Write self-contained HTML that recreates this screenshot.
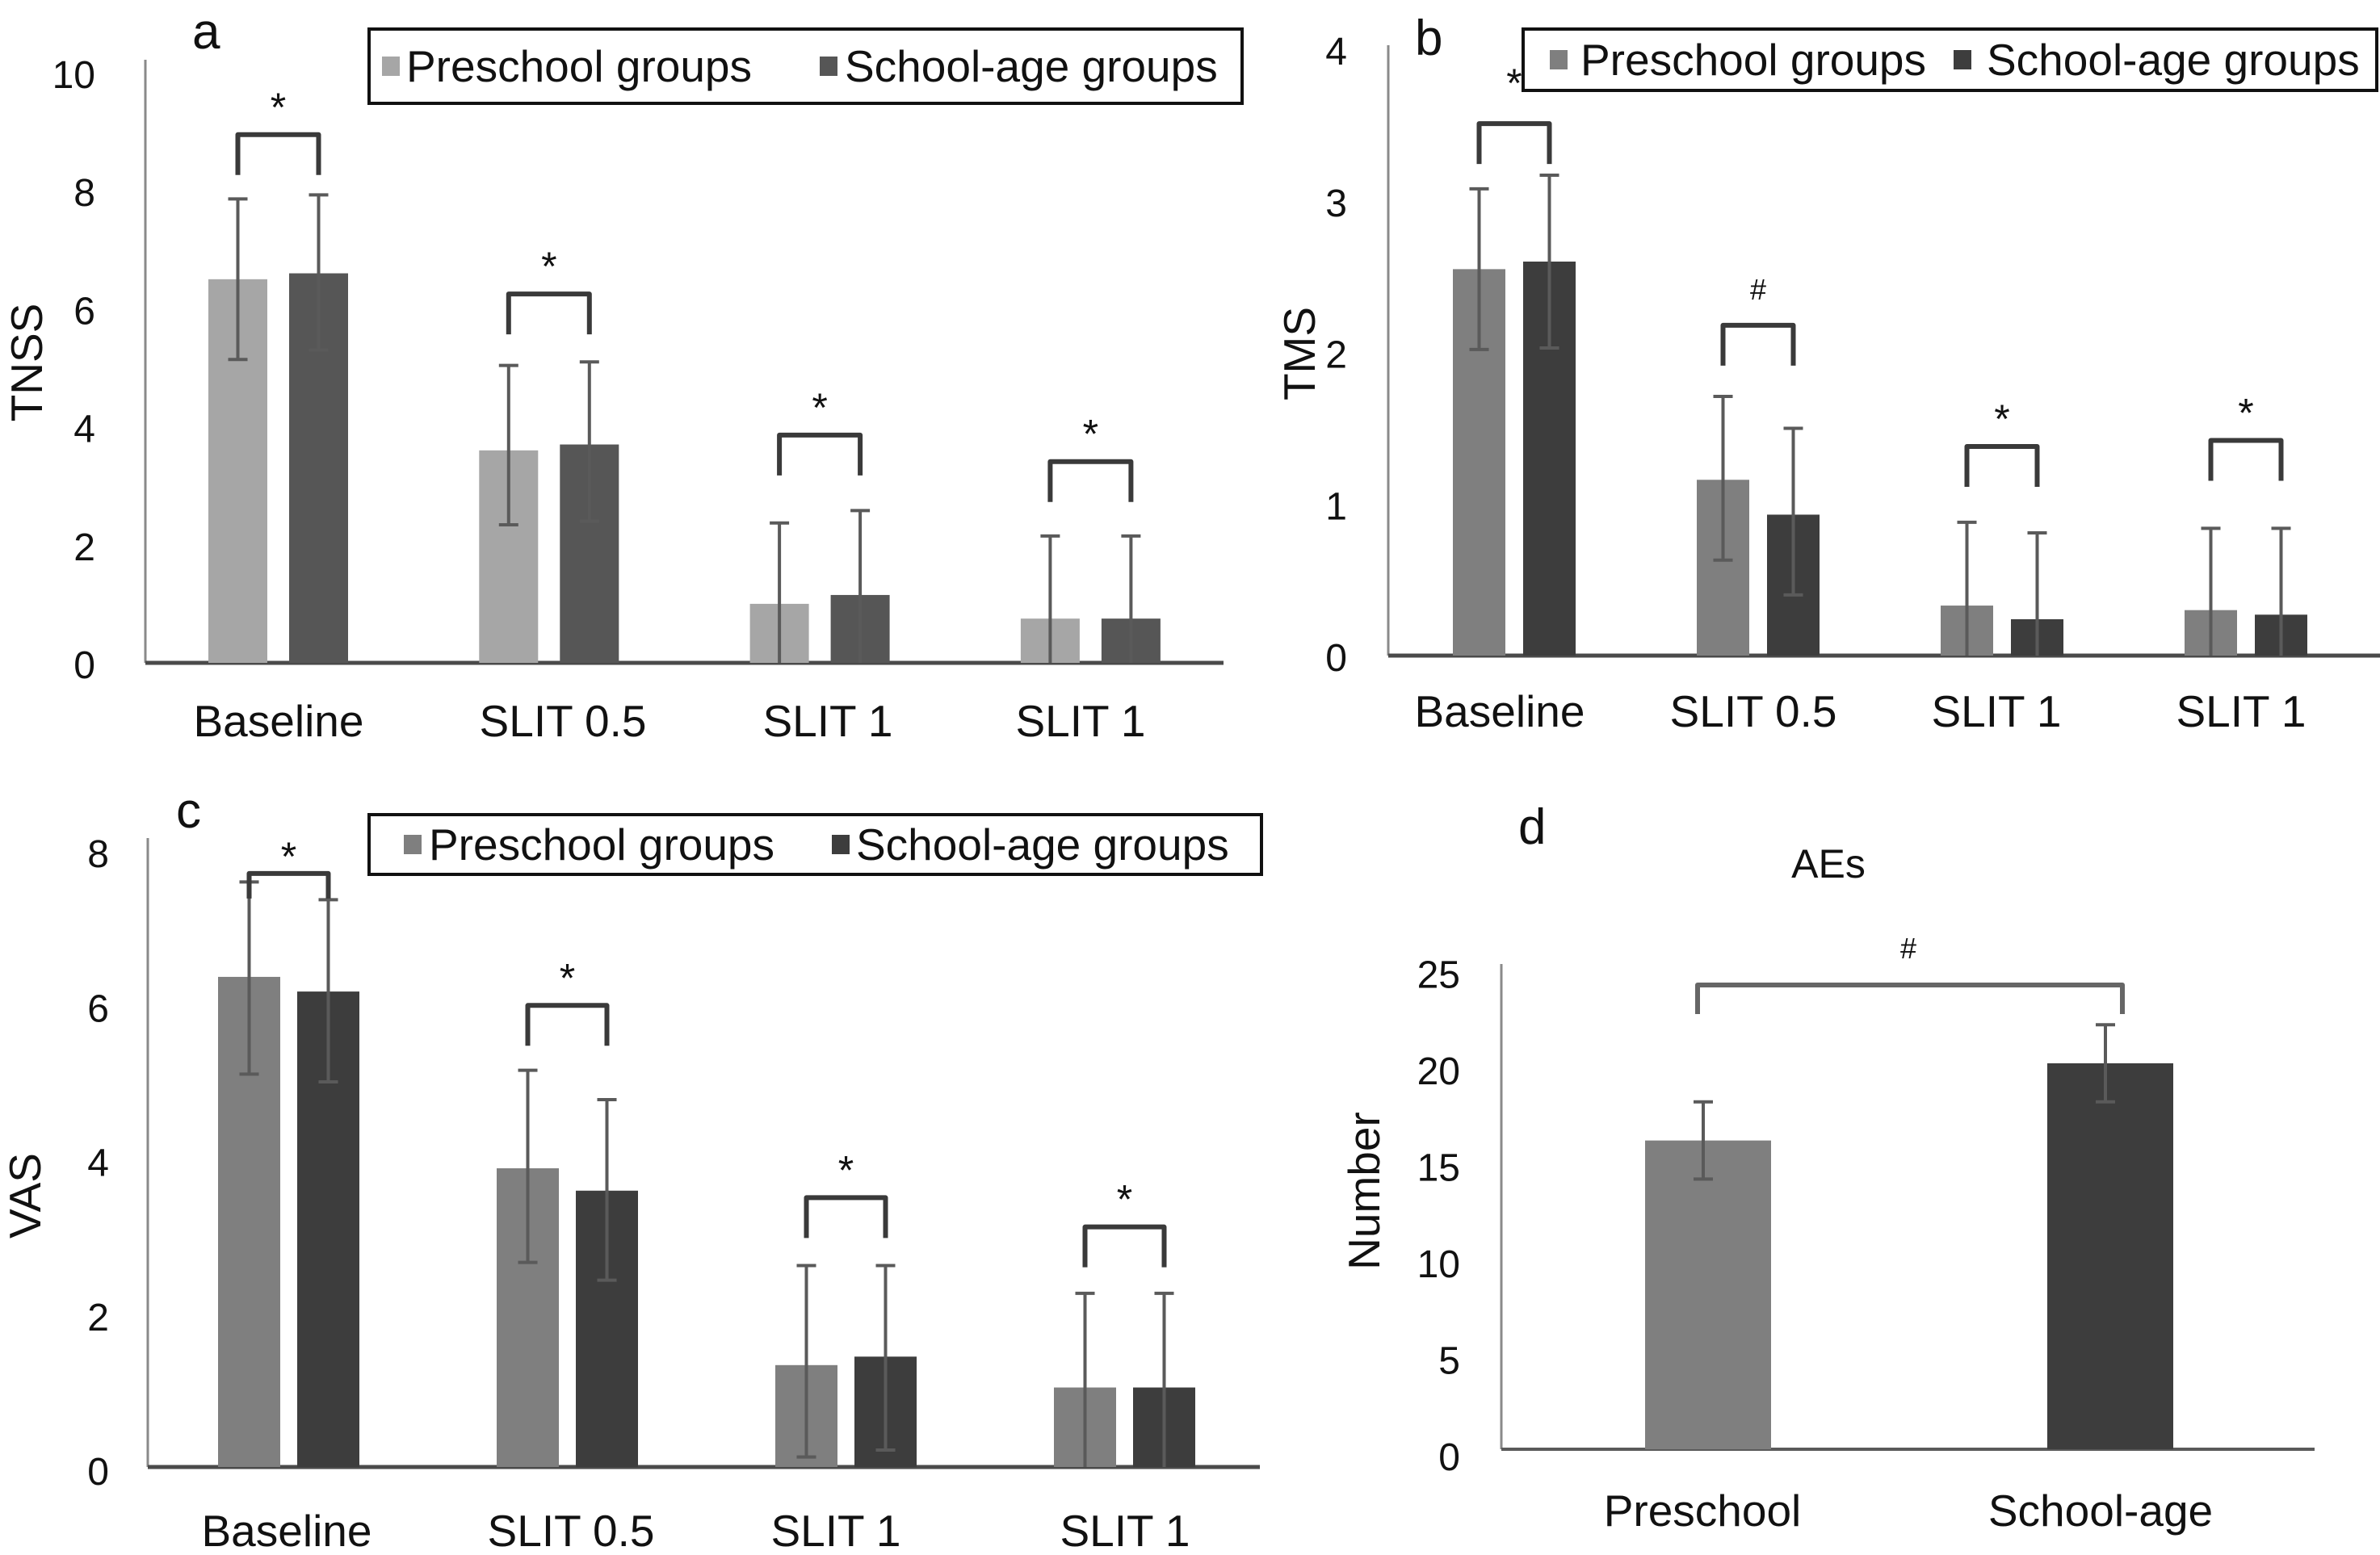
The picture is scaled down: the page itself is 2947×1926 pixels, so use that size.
<!DOCTYPE html>
<html><head><meta charset="utf-8"><style>
html,body{margin:0;padding:0;background:#fff;}
svg{display:block;font-family:"Liberation Sans",Arial,sans-serif;}
</style></head><body>
<svg id="fig" width="2947" height="1926" viewBox="0 0 2947 1926" xmlns="http://www.w3.org/2000/svg"></svg>
<script>
// ---- data ----
const categories = ['Baseline','SLIT 0.5','SLIT 1','SLIT 1'];
const seriesNames = ['Preschool groups','School-age groups'];

const tnssPre = [6.5, 3.6, 1.0, 0.75];
const tnssSchool = [6.6, 3.7, 1.15, 0.75];
const tnssPreHi = [7.86, 5.04, 2.37, 2.15];
const tnssSchoolHi = [7.93, 5.1, 2.58, 2.15];
const tnssPreLo = [5.14, 2.34, 0, 0];
const tnssSchoolLo = [5.3, 2.4, 0, 0];
const tnssSig = ['*','*','*','*'];
const tnssSigLevel = [8.95, 6.25, 3.86, 3.41];
const tnssTicks = [0,2,4,6,8,10];

const tmsPre = [2.55, 1.16, 0.33, 0.30];
const tmsSchool = [2.60, 0.93, 0.24, 0.27];
const tmsPreHi = [3.08, 1.71, 0.88, 0.84];
const tmsSchoolHi = [3.17, 1.50, 0.81, 0.84];
const tmsPreLo = [2.02, 0.63, 0, 0];
const tmsSchoolLo = [2.03, 0.40, 0, 0];
const tmsSig = ['*','#','*','*'];
const tmsSigLevel = [3.51, 2.18, 1.38, 1.42];
const tmsTicks = [0,1,2,3,4];

const vasPre = [6.35, 3.87, 1.32, 1.03];
const vasSchool = [6.16, 3.58, 1.43, 1.03];
const vasPreHi = [7.58, 5.14, 2.61, 2.25];
const vasSchoolHi = [7.35, 4.76, 2.61, 2.25];
const vasPreLo = [5.09, 2.65, 0.13, 0];
const vasSchoolLo = [4.99, 2.42, 0.22, 0];
const vasSig = ['*','*','*','*'];
const vasSigLevel = [7.69, 5.98, 3.49, 3.11];
const vasTicks = [0,2,4,6,8];

const aeCategories = ['Preschool','School-age'];
const aeValues = [16, 20];
const aeHi = [18, 22];
const aeLo = [14, 18];
const aeSigLevel = 24.06;
const aeTicks = [0,5,10,15,20,25];

// ---- helpers ----
const NS = 'http://www.w3.org/2000/svg';
const svg = document.getElementById('fig');
function mk(tag, attrs, parent){
  const e = document.createElementNS(NS, tag);
  for (const k in attrs) e.setAttribute(k, attrs[k]);
  (parent||svg).appendChild(e);
  return e;
}
function txt(s, attrs, parent){ const e = mk('text', attrs, parent); e.textContent = s; return e; }

function panel(cfg){
  const g = mk('g', {});
  
  
  const y = v => cfg.y0 - v*cfg.unit;
  const cx = i => cfg.c0 + i*cfg.step;
  // y axis
  const ya = mk('line', {x1:cfg.x0, y1:cfg.yTop, x2:cfg.x0, y2:cfg.y0, stroke:'#8a8a8a','stroke-width':3}, g);
  
  
  const xa = mk('line', {x1:cfg.x0, y1:cfg.y0, x2:cfg.xEnd, y2:cfg.y0, stroke:'#4a4a4a','stroke-width':5}, g);
  
  
  cfg.ticks.forEach(t => {
    const e = txt(String(t), {x:cfg.tickX, y:y(t)+17+cfg.tickDy, 'font-size':48, 'text-anchor':'end', fill:'#111'}, g);
    
    
  });
  // bars
  const series = [cfg.pre, cfg.school];
  const his = [cfg.preHi, cfg.schoolHi];
  const los = [cfg.preLo, cfg.schoolLo];
  const offs = [cfg.offPre, cfg.offSchool];
  const cols = [cfg.colPre, cfg.colSchool];
  series.forEach((vals, s) => {
    vals.forEach((v, i) => {
      const bx = cx(i) + offs[s];
      const r = mk('rect', {x:bx, y:y(v), width:cfg.bw, height:cfg.y0 - y(v), fill:cols[s]}, g);
      
      
      const mx = bx + cfg.bw/2;
      const eb = mk('path', {d:`M${mx},${y(los[s][i])}V${y(his[s][i])}M${mx-12},${y(his[s][i])}H${mx+12}` + (los[s][i]>0?`M${mx-12},${y(los[s][i])}H${mx+12}`:''), stroke:'#5a5a5a','stroke-width':4, fill:'none'}, g);
      
      
    });
  });
  // brackets
  cfg.sigLevel.forEach((lv, i) => {
    const xl = cx(i) + cfg.offPre + cfg.bw/2, xr = cx(i) + cfg.offSchool + cfg.bw/2;
    const top = y(lv);
    const leg = (i===0 && cfg.firstLeg) ? cfg.firstLeg : 50;
    const b = mk('path', {d:`M${xl},${top+leg}V${top}H${xr}V${top+leg}`, stroke:'#3a3a3a','stroke-width':6, fill:'none','stroke-linejoin':'round'}, g);
    
    
    const sym = cfg.sig[i];
    const off = (i===0 && cfg.firstStarOff) ? cfg.firstStarOff : 45;
    const s = txt(sym, {x:(xl+xr)/2, y: sym==='#' ? top-off+13 : top-off+28, 'font-size': sym==='#'?36:50, 'text-anchor':'middle', fill:'#111'}, g);
    
    
  });
  // category labels
  categories.forEach((c, i) => {
    const e = txt(c, {x:cfg.labX[i], y:cfg.labY, 'font-size':55, 'text-anchor':'middle', fill:'#111'}, g);
    
    
  });
  // y title
  const yt = txt(cfg.yTitle, {x:0, y:0, 'font-size':55, 'text-anchor':'middle', fill:'#111', transform:`translate(${cfg.ytX},${cfg.ytY}) rotate(-90)`}, g);
  
  
  // panel letter
  const pl = txt(cfg.letter, {x:cfg.letX, y:cfg.letY, 'font-size':62, fill:'#111'}, g);
  
  
  // legend
  const lg = mk('g', {}, g);
  
  
  mk('rect', {x:cfg.lg[0], y:cfg.lg[1], width:cfg.lg[2]-cfg.lg[0], height:cfg.lg[3]-cfg.lg[1], fill:'#fff', stroke:'#111','stroke-width':4}, lg);
  const ly = (cfg.lg[1]+cfg.lg[3])/2;
  [0,1].forEach(s => {
    const sw = mk('rect', {x:cfg.lgSw[s], y:ly-12, width:22, height:24, fill:cols[s]}, lg);
    
    
    const lt = txt(seriesNames[s], {x:cfg.lgTx[s], y:ly+19, 'font-size':55, fill:'#111'}, lg);
    
    
  });
}

panel({name:'panel-a-tnss', letter:'a', letX:238, letY:60, x0:180, y0:821, yTop:74, xEnd:1515, unit:73.1,
  c0:344, step:335.3, offPre:-86, offSchool:14, bw:73, colPre:'#a6a6a6', colSchool:'#565656',
  pre:tnssPre, school:tnssSchool, preHi:tnssPreHi, schoolHi:tnssSchoolHi, preLo:tnssPreLo, schoolLo:tnssSchoolLo,
  sig:tnssSig, sigLevel:tnssSigLevel, ticks:tnssTicks, tickX:118, tickDy:2,
  labX:[345,697,1025,1338], labY:912, yTitle:'TNSS', ytX:52, ytY:449,
  lg:[457,36,1538,128], lgSw:[473,1015], lgTx:[503,1046]});

panel({name:'panel-b-tms', letter:'b', letX:1752, letY:68, x0:1719, y0:812, yTop:56, xEnd:2947, unit:187.7,
  c0:1873, step:302, offPre:-74, offSchool:13, bw:65, colPre:'#7f7f7f', colSchool:'#3d3d3d',
  pre:tmsPre, school:tmsSchool, preHi:tmsPreHi, schoolHi:tmsSchoolHi, preLo:tmsPreLo, schoolLo:tmsSchoolLo,
  sig:tmsSig, sigLevel:tmsSigLevel, ticks:tmsTicks, tickX:1668, tickDy:2, firstStarOff:61,
  labX:[1857,2171,2472,2775], labY:900, yTitle:'TMS', ytX:1628, ytY:438,
  lg:[1886,36,2943,112], lgSw:[1919,2419], lgTx:[1957,2460]});

panel({name:'panel-c-vas', letter:'c', letX:218, letY:1025, x0:183, y0:1817, yTop:1038, xEnd:1560, unit:95.6,
  c0:359, step:345, offPre:-89, offSchool:9, bw:77, colPre:'#7f7f7f', colSchool:'#3d3d3d',
  pre:vasPre, school:vasSchool, preHi:vasPreHi, schoolHi:vasSchoolHi, preLo:vasPreLo, schoolLo:vasSchoolLo,
  sig:vasSig, sigLevel:vasSigLevel, ticks:vasTicks, tickX:135, tickDy:5, firstLeg:31, firstStarOff:32,
  labX:[355,707,1035,1393], labY:1915, yTitle:'VAS', ytX:50, ytY:1481,
  lg:[457,1009,1562,1083], lgSw:[500,1030], lgTx:[531,1060]});

// ---- panel d ----
(function(){
  const g = mk('g', {});
  
  
  const x0 = 1859, y0 = 1795, unit = 23.9;
  const y = v => y0 - v*unit;
  const barX = [2037, 2535], bw = 156, cols = ['#7f7f7f', '#3d3d3d'];
  const ya = mk('line', {x1:x0, y1:1194, x2:x0, y2:y0, stroke:'#8a8a8a','stroke-width':3}, g);
  
  
  const xa = mk('line', {x1:x0, y1:y0, x2:2866, y2:y0, stroke:'#5a5a5a','stroke-width':4}, g);
  
  
  aeTicks.forEach(t => {
    const e = txt(String(t), {x:1808, y:y(t)+26, 'font-size':48, 'text-anchor':'end', fill:'#111'}, g);
    
    
  });
  aeValues.forEach((v, i) => {
    const r = mk('rect', {x:barX[i], y:y(v), width:bw, height:y0-y(v), fill:cols[i]}, g);
    
    
    const mx = barX[i] + bw/2 - 6;
    const eb = mk('path', {d:`M${mx},${y(aeLo[i])}V${y(aeHi[i])}M${mx-12},${y(aeHi[i])}H${mx+12}M${mx-12},${y(aeLo[i])}H${mx+12}`, stroke:'#5a5a5a','stroke-width':4, fill:'none'}, g);
    
    
    const l = txt(aeCategories[i], {x:[2108,2601][i], y:1890, 'font-size':55, 'text-anchor':'middle', fill:'#111'}, g);
    
    
  });
  const top = y(aeSigLevel);
  const b = mk('path', {d:`M2102,${top+36}V${top}H2628V${top+36}`, stroke:'#666','stroke-width':6, fill:'none','stroke-linejoin':'round'}, g);
  
  
  const h = txt('#', {x:2363, y:top-33, 'font-size':36, 'text-anchor':'middle', fill:'#111'}, g);
  
  
  const t = txt('AEs', {x:2264, y:1087, 'font-size':50, 'text-anchor':'middle', fill:'#111'}, g);
  
  
  const pl = txt('d', {x:1880, y:1045, 'font-size':62, fill:'#111'}, g);
  
  
  const yt = txt('Number', {x:0, y:0, 'font-size':55, 'text-anchor':'middle', fill:'#111', transform:'translate(1708,1475) rotate(-90)'}, g);
  
  
})();
</script>
</body></html>
